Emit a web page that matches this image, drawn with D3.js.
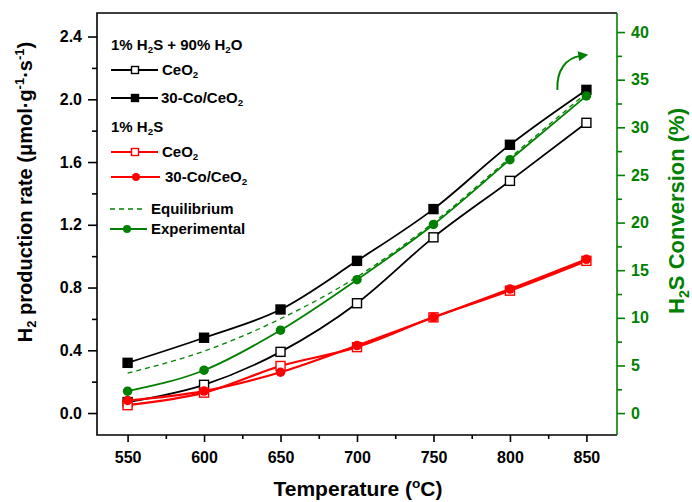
<!DOCTYPE html>
<html lang="en">
<head>
<meta charset="utf-8">
<title>H2 production rate vs temperature</title>
<script src="https://cdn.jsdelivr.net/npm/d3@7"></script>
<style>
  body { margin: 0; background: #fff; }
  svg text { font-family: "Liberation Sans", Arial, sans-serif; font-weight: bold; }
</style>
</head>
<body>
<svg id="chart" width="692" height="502"></svg>
<script>
// temperatures (°C)
const temps = [550, 600, 650, 700, 750, 800, 850];
// H2 production rate, 1% H2S + 90% H2O
const ceo2Water = [0.07, 0.18, 0.39, 0.70, 1.12, 1.48, 1.85];
const coCeo2Water = [0.32, 0.48, 0.66, 0.97, 1.30, 1.71, 2.06];
// H2 production rate, 1% H2S
const ceo2Dry = [0.05, 0.13, 0.30, 0.42, 0.61, 0.78, 0.97];
const coCeo2Dry = [0.08, 0.14, 0.26, 0.43, 0.61, 0.79, 0.98];
// H2S conversion (%), right axis
const equilibrium = [4.2, 6.5, 9.9, 14.3, 20.0, 26.8, 33.6];
const experimental = [2.3, 4.5, 8.7, 14.0, 19.8, 26.6, 33.3];

const xTicks = [550, 600, 650, 700, 750, 800, 850];
const yTicks = [0, 0.4, 0.8, 1.2, 1.6, 2.0, 2.4];
const y2Ticks = [0, 5, 10, 15, 20, 25, 30, 35, 40];

const GREEN = "#008000", RED = "#ff0000";
const pL = 97, pR = 617, pT = 13, pB = 435;

const svg = d3.select("#chart");

const x = d3.scaleLinear().domain([530, 870]).range([pL, pR]);
const y = d3.scaleLinear().domain([-0.14, 2.55]).range([pB, pT]);
const y2 = d3.scaleLinear().domain([-2.3, 42]).range([pB, pT]);

// minor ticks halfway between majors
function minors(ticks, scale) {
  const out = [];
  for (let i = 0; i < ticks.length - 1; i++) out.push((ticks[i] + ticks[i + 1]) / 2);
  const step = ticks[1] - ticks[0];
  const [a, b] = scale.domain();
  if (ticks[0] - step / 2 >= a) out.push(ticks[0] - step / 2);
  if (ticks[ticks.length - 1] + step / 2 <= b) out.push(ticks[ticks.length - 1] + step / 2);
  return out;
}

// axes
svg.append("g").attr("transform", `translate(0,${pB})`)
  .call(d3.axisBottom(x).tickValues(xTicks).tickSize(7).tickPadding(10).tickSizeOuter(0));
svg.append("g").attr("transform", `translate(0,${pB})`)
  .call(d3.axisBottom(x).tickValues(minors(xTicks, x)).tickSize(4).tickFormat("").tickSizeOuter(0));

svg.append("g").attr("transform", `translate(${pL},0)`)
  .call(d3.axisLeft(y).tickValues(yTicks).tickSize(9).tickPadding(6).tickFormat(d3.format(".1f")).tickSizeOuter(0));
svg.append("g").attr("transform", `translate(${pL},0)`)
  .call(d3.axisLeft(y).tickValues(minors(yTicks, y)).tickSize(5).tickFormat("").tickSizeOuter(0));

const gy2 = svg.append("g").attr("transform", `translate(${pR},0)`)
  .call(d3.axisRight(y2).tickValues(y2Ticks).tickSize(8).tickPadding(6).tickSizeOuter(0));
const gy2m = svg.append("g").attr("transform", `translate(${pR},0)`)
  .call(d3.axisRight(y2).tickValues(minors(y2Ticks, y2)).tickSize(5).tickFormat("").tickSizeOuter(0));

svg.selectAll(".domain").remove();
svg.selectAll("g").attr("font-family", null).attr("font-size", null);
svg.selectAll(".tick line").attr("stroke-width", 1.6);
svg.selectAll(".tick text").attr("font-size", 16).attr("fill", "#000");
gy2.selectAll(".tick text").attr("fill", GREEN);
gy2.selectAll(".tick line").attr("stroke", GREEN);
gy2m.selectAll(".tick line").attr("stroke", GREEN);

// frame
svg.append("path")
  .attr("d", `M${pR},${pT}H${pL}V${pB}H${pR}`)
  .attr("fill", "none").attr("stroke", "#000").attr("stroke-width", 1.6);
svg.append("line")
  .attr("x1", pR).attr("x2", pR).attr("y1", pT).attr("y2", pB)
  .attr("stroke", GREEN).attr("stroke-width", 1.6);

// data series
const series = [
  { vals: ceo2Water, yS: y, color: "#000", width: 1.8, marker: "sqOpen" },
  { vals: coCeo2Water, yS: y, color: "#000", width: 1.8, marker: "sqFill" },
  { vals: ceo2Dry, yS: y, color: RED, width: 2.2, marker: "sqOpen" },
  { vals: coCeo2Dry, yS: y, color: RED, width: 2.2, marker: "circle" },
  { vals: equilibrium, yS: y2, color: GREEN, width: 1.3, dash: "5,4", marker: null },
  { vals: experimental, yS: y2, color: GREEN, width: 1.8, marker: "circle" }
];

function drawMarker(g, type, cx, cy, color, size) {
  if (type === "circle") {
    g.append("circle").attr("cx", cx).attr("cy", cy).attr("r", size / 2).attr("fill", color);
  } else if (type === "sqFill" || type === "sqOpen") {
    g.append("rect")
      .attr("x", cx - size / 2).attr("y", cy - size / 2)
      .attr("width", size).attr("height", size)
      .attr("fill", type === "sqFill" ? color : "#fff")
      .attr("stroke", color).attr("stroke-width", 1.4);
  }
}

series.forEach(s => {
  const pts = temps.map((t, i) => [x(t), s.yS(s.vals[i])]);
  const g = svg.append("g");
  g.append("path")
    .attr("d", d3.line().curve(d3.curveMonotoneX)(pts))
    .attr("fill", "none").attr("stroke", s.color).attr("stroke-width", s.width)
    .attr("stroke-dasharray", s.dash || null);
  if (s.marker) pts.forEach(p => drawMarker(g, s.marker, p[0], p[1], s.color, s.marker === "circle" ? 9.5 : 9));
});

// arrow pointing to the right axis
const ax = x(850), ay = y2(experimental[6]);
svg.append("defs").append("marker")
  .attr("id", "arr").attr("viewBox", "0 0 10 10").attr("refX", 2).attr("refY", 5)
  .attr("markerWidth", 6).attr("markerHeight", 5).attr("orient", "auto")
  .append("path").attr("d", "M0,0L10,5L0,10Z").attr("fill", GREEN);
svg.append("path")
  .attr("d", `M${ax - 29},${ay - 6}C${ax - 30},${ay - 26} ${ax - 20},${ay - 38} ${ax - 6},${ay - 40}`)
  .attr("fill", "none").attr("stroke", GREEN).attr("stroke-width", 2)
  .attr("marker-end", "url(#arr)");

// rich text: parts are [text, "sub"|"sup"|undefined]
function rich(sel, parts, size) {
  let shift = 0;
  parts.forEach(([t, k]) => {
    const ts = sel.append("tspan").text(t);
    let target = 0;
    if (k === "sub") target = size * 0.22;
    if (k === "sup") target = -size * 0.4;
    if (k) ts.attr("font-size", size * 0.65);
    if (target !== shift) ts.attr("dy", target - shift);
    shift = target;
  });
  return sel;
}

// axis titles
const xt = svg.append("text").attr("x", 358).attr("y", 496).attr("text-anchor", "middle")
  .attr("font-size", 21);
rich(xt, [["Temperature ("], ["o", "sup"], ["C)"]], 21);

const ylt = svg.append("text").attr("transform", "translate(32,192) rotate(-90)")
  .attr("text-anchor", "middle").attr("font-size", 20);
rich(ylt, [["H"], ["2", "sub"], [" production rate (\u03bcmol\u00b7g"], ["-1", "sup"], ["\u00b7s"], ["-1", "sup"], [")"]], 20);

const yrt = svg.append("text").attr("transform", "translate(684,211) rotate(-90)")
  .attr("text-anchor", "middle").attr("font-size", 22).attr("fill", GREEN);
rich(yrt, [["H"], ["2", "sub"], ["S Conversion (%)"]], 22);

// legend
const lg = svg.append("g");
const LF = 15;
function legText(px, py, parts) {
  const t = lg.append("text").attr("x", px).attr("y", py).attr("font-size", LF);
  rich(t, parts, LF);
}
legText(111, 50, [["1% H"], ["2", "sub"], ["S + 90% H"], ["2", "sub"], ["O"]]);
legText(111, 132, [["1% H"], ["2", "sub"], ["S"]]);

const legItems = [
  { ly: 70, x1: 111, x2: 158, mx: 135, tx: 162, color: "#000", marker: "sqOpen", label: "CeO" },
  { ly: 98, x1: 111, x2: 158, mx: 135, tx: 161, color: "#000", marker: "sqFill", label: "30-Co/CeO" },
  { ly: 152, x1: 111, x2: 158, mx: 135, tx: 162, color: RED, marker: "sqOpen", label: "CeO" },
  { ly: 177, x1: 111, x2: 160, mx: 136, tx: 165, color: RED, marker: "circle", label: "30-Co/CeO" }
];
legItems.forEach(it => {
  lg.append("line").attr("x1", it.x1).attr("x2", it.x2).attr("y1", it.ly).attr("y2", it.ly)
    .attr("stroke", it.color).attr("stroke-width", 1.8);
  drawMarker(lg, it.marker, it.mx, it.ly, it.color, it.marker === "circle" ? 8 : 7);
  legText(it.tx, it.ly + 5, [[it.label], ["2", "sub"]]);
});
lg.append("line").attr("x1", 110).attr("x2", 145).attr("y1", 209).attr("y2", 209)
  .attr("stroke", GREEN).attr("stroke-width", 1.3).attr("stroke-dasharray", "5,4");
legText(151, 214, [["Equilibrium"]]);
lg.append("line").attr("x1", 110).attr("x2", 147).attr("y1", 229).attr("y2", 229)
  .attr("stroke", GREEN).attr("stroke-width", 1.8);
drawMarker(lg, "circle", 127, 229, GREEN, 8);
legText(151, 234, [["Experimental"]]);
</script>
</body>
</html>
